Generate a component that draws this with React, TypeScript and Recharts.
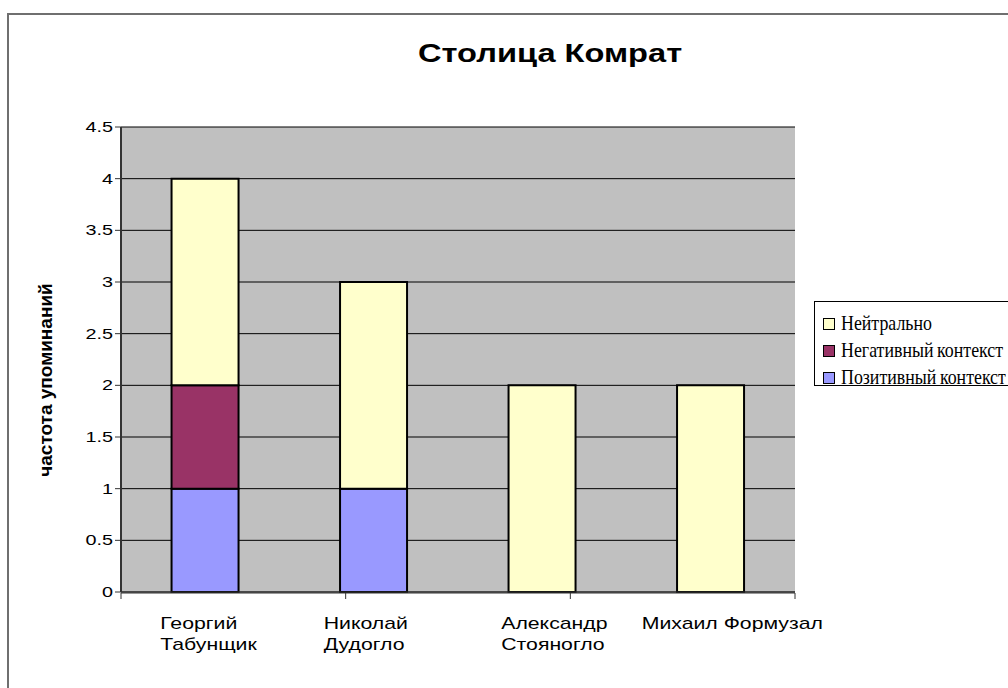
import { BarChart, Bar, XAxis, YAxis, CartesianGrid } from "recharts";

const categories = ["Георгий Табунщик", "Николай Дудогло", "Александр Стояногло", "Михаил Формузал"];
const tickLines = [["Георгий", "Табунщик"], ["Николай", "Дудогло"], ["Александр", "Стояногло"], ["Михаил Формузал"]];
const positive = [1, 1, 0, 0];
const negative = [1, 0, 0, 0];
const neutral = [2, 2, 2, 2];
const yTicks = [0, 0.5, 1, 1.5, 2, 2.5, 3, 3.5, 4, 4.5];

const series = [
  { key: "neutral", name: "Нейтрально", color: "#FFFFCC" },
  { key: "negative", name: "Негативный контекст", color: "#993366" },
  { key: "positive", name: "Позитивный контекст", color: "#9999FF" },
];

const data = categories.map((c, i) => ({
  name: c,
  positive: positive[i],
  negative: negative[i],
  neutral: neutral[i],
}));

const FONT = "Arial, 'Liberation Sans', sans-serif";
const STRETCH = 1.32;
const X_STRETCH = 1.25;
// where each wrapped label block starts, relative to its category centre
const labelLeft = [-45, -50, -41, -69];

function CatTick(props: any) {
  const { x, y, payload } = props;
  const lines = tickLines[payload.index] || [payload.value];
  const left = x + (labelLeft[payload.index] ?? -50);
  return (
    <g transform={`translate(${left},${y}) scale(${X_STRETCH},1)`}>
      <text x={0} y={29} fontFamily={FONT} fontSize={17} fill="#000">
        {lines.map((l, i) => (
          <tspan key={i} x={0} dy={i === 0 ? 0 : 21}>
            {l}
          </tspan>
        ))}
      </text>
    </g>
  );
}

function NumTick(props: any) {
  const { x, y, payload } = props;
  return (
    <g transform={`translate(${x},${y}) scale(${STRETCH},1)`}>
      <text x={0} y={0} textAnchor="end" dominantBaseline="central" fontFamily={FONT} fontSize={15} fill="#000">
        {payload.value}
      </text>
    </g>
  );
}

function LegendBox() {
  return (
    <div
      style={{
        position: "absolute",
        left: 814,
        top: 301,
        border: "1px solid #000",
        background: "#fff",
        width: 260,
        height: 85,
        boxSizing: "border-box",
        paddingLeft: 8,
        paddingTop: 8,
        fontFamily: "'Liberation Serif', 'Times New Roman', serif",
        fontSize: 21,
      }}
    >
      {series.map((s) => (
        <div key={s.key} style={{ display: "flex", alignItems: "center", height: 27, whiteSpace: "nowrap" }}>
          <span
            style={{
              display: "inline-block",
              width: 10,
              height: 10,
              background: s.color,
              border: "1px solid #000",
              marginRight: 6,
            }}
          />
          <span style={{ display: "inline-block", transform: "scaleX(0.85)", transformOrigin: "left center", wordSpacing: -1 }}>
            {s.name}
          </span>
        </div>
      ))}
    </div>
  );
}

export default function App() {
  return (
    <div style={{ position: "absolute", left: 0, top: 0, width: 1008, height: 688, overflow: "hidden", background: "#fff" }}>
      <div
        style={{
          position: "absolute",
          left: 7,
          top: 13,
          width: 1100,
          height: 800,
          border: "2px solid #6f6f6f",
        }}
      />
      <div
        style={{
          position: "absolute",
          left: 418,
          top: 38,
          fontFamily: FONT,
          fontWeight: "bold",
          fontSize: 26,
          whiteSpace: "nowrap",
          transform: `scaleX(${STRETCH * 0.95})`,
          transformOrigin: "left top",
        }}
      >
        Столица Комрат
      </div>
      <div style={{ position: "absolute", left: 0, top: 0 }}>
        <BarChart
          width={1008}
          height={688}
          data={data}
          barCategoryGap="30%"
          margin={{ top: 127, right: 213, bottom: 35, left: 60 }}
        >
          <CartesianGrid fill="#C0C0C0" stroke="#000" vertical={false} horizontalValues={yTicks} />
          <XAxis
            xAxisId="b"
            type="number"
            domain={[0, 4]}
            ticks={[0, 1, 2, 3, 4]}
            allowDataOverflow
            height={60}
            tickFormatter={() => ""}
            tickSize={6}
            axisLine={{ stroke: "#333" }}
            tickLine={{ stroke: "#333" }}
          />
          <XAxis dataKey="name" height={1} axisLine={{ stroke: "#333" }} tickLine={false} tick={<CatTick />} interval={0} />
          <YAxis
            width={61}
            domain={[0, 4.5]}
            ticks={yTicks}
            interval={0}
            tickSize={6}
            axisLine={{ stroke: "#333", strokeWidth: 2 }}
            tickLine={{ stroke: "#333" }}
            tick={<NumTick />}
            label={() => (
              <text
                x={45}
                y={380}
                transform="rotate(-90 45 380)"
                textAnchor="middle"
                dominantBaseline="central"
                fontFamily={FONT}
                fontWeight="bold"
                fontSize={19}
                fill="#000"
              >
                частота упоминаний
              </text>
            )}
          />
          <Bar dataKey="positive" name="Позитивный контекст" stackId="s" fill="#9999FF" stroke="#000" strokeWidth={2} isAnimationActive={false} />
          <Bar dataKey="negative" name="Негативный контекст" stackId="s" fill="#993366" stroke="#000" strokeWidth={2} isAnimationActive={false} />
          <Bar dataKey="neutral" name="Нейтрально" stackId="s" fill="#FFFFCC" stroke="#000" strokeWidth={2} isAnimationActive={false} />
        </BarChart>
      </div>
      <LegendBox />
    </div>
  );
}
